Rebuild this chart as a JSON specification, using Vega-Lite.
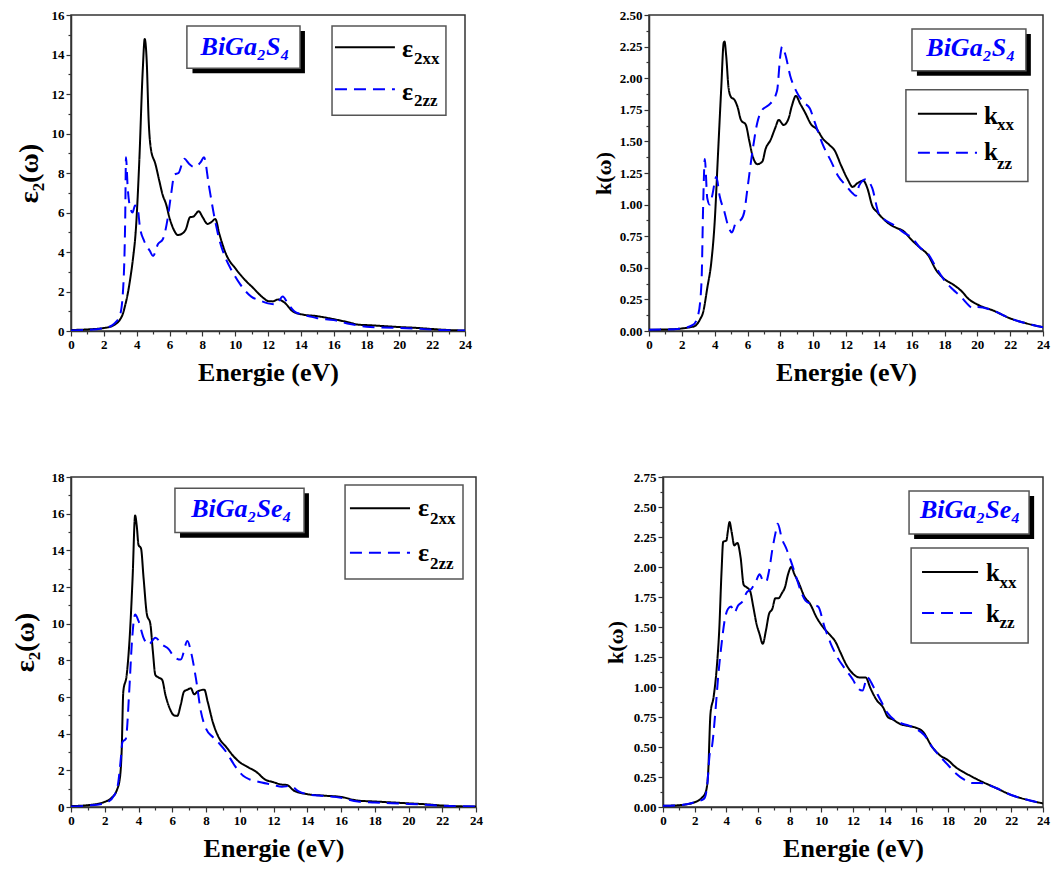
{
"$schema": "https://vega.github.io/schema/vega-lite/v6.json",
"padding": {"left": 10, "top": 8, "right": 5, "bottom": 5},
"datasets": {
"p1": [
{"s":"xx","E":0,"v":0.05},{"s":"xx","E":1,"v":0.08},{"s":"xx","E":2,"v":0.15},{"s":"xx","E":2.5,"v":0.25},{"s":"xx","E":2.75,"v":0.37},{"s":"xx","E":3.0,"v":0.6},{"s":"xx","E":3.15,"v":0.85},{"s":"xx","E":3.3,"v":1.3},{"s":"xx","E":3.45,"v":1.86},{"s":"xx","E":3.6,"v":2.6},{"s":"xx","E":3.76,"v":3.56},{"s":"xx","E":3.96,"v":5.25},{"s":"xx","E":4.16,"v":8.6},{"s":"xx","E":4.37,"v":13.2},{"s":"xx","E":4.49,"v":14.78},{"s":"xx","E":4.61,"v":13.7},{"s":"xx","E":4.73,"v":10.67},{"s":"xx","E":4.87,"v":9.2},{"s":"xx","E":5.14,"v":8.46},{"s":"xx","E":5.38,"v":7.6},{"s":"xx","E":5.58,"v":6.9},{"s":"xx","E":5.8,"v":6.4},{"s":"xx","E":5.99,"v":5.76},{"s":"xx","E":6.15,"v":5.35},{"s":"xx","E":6.29,"v":5.08},{"s":"xx","E":6.5,"v":4.86},{"s":"xx","E":6.7,"v":4.9},{"s":"xx","E":7.0,"v":5.16},{"s":"xx","E":7.25,"v":5.76},{"s":"xx","E":7.45,"v":5.79},{"s":"xx","E":7.78,"v":6.06},{"s":"xx","E":8.02,"v":5.76},{"s":"xx","E":8.32,"v":5.42},{"s":"xx","E":8.53,"v":5.5},{"s":"xx","E":8.79,"v":5.67},{"s":"xx","E":9.04,"v":4.9},{"s":"xx","E":9.44,"v":3.9},{"s":"xx","E":10.05,"v":3.13},{"s":"xx","E":10.56,"v":2.62},{"s":"xx","E":11.07,"v":2.2},{"s":"xx","E":11.68,"v":1.7},{"s":"xx","E":12.0,"v":1.52},{"s":"xx","E":12.3,"v":1.5},{"s":"xx","E":12.6,"v":1.6},{"s":"xx","E":13.0,"v":1.44},{"s":"xx","E":13.5,"v":1.0},{"s":"xx","E":14,"v":0.85},{"s":"xx","E":15,"v":0.75},{"s":"xx","E":16,"v":0.6},{"s":"xx","E":17,"v":0.42},{"s":"xx","E":17.5,"v":0.32},{"s":"xx","E":18,"v":0.3},{"s":"xx","E":19,"v":0.25},{"s":"xx","E":20,"v":0.2},{"s":"xx","E":21,"v":0.16},{"s":"xx","E":22,"v":0.1},{"s":"xx","E":23,"v":0.05},{"s":"xx","E":24,"v":0.02},
{"s":"zz","E":0,"v":0.03},{"s":"zz","E":1,"v":0.06},{"s":"zz","E":2,"v":0.15},{"s":"zz","E":2.5,"v":0.28},{"s":"zz","E":2.7,"v":0.42},{"s":"zz","E":3.0,"v":0.85},{"s":"zz","E":3.2,"v":2.5},{"s":"zz","E":3.3,"v":5.6},{"s":"zz","E":3.35,"v":8.8},{"s":"zz","E":3.45,"v":7.3},{"s":"zz","E":3.6,"v":6.26},{"s":"zz","E":3.75,"v":6.0},{"s":"zz","E":3.9,"v":6.35},{"s":"zz","E":4.05,"v":6.26},{"s":"zz","E":4.2,"v":5.25},{"s":"zz","E":4.45,"v":4.57},{"s":"zz","E":4.8,"v":4.06},{"s":"zz","E":5.0,"v":3.8},{"s":"zz","E":5.3,"v":4.4},{"s":"zz","E":5.6,"v":4.66},{"s":"zz","E":5.9,"v":5.76},{"s":"zz","E":6.1,"v":6.94},{"s":"zz","E":6.3,"v":7.92},{"s":"zz","E":6.55,"v":8.0},{"s":"zz","E":6.9,"v":8.72},{"s":"zz","E":7.2,"v":8.46},{"s":"zz","E":7.5,"v":8.3},{"s":"zz","E":7.9,"v":8.55},{"s":"zz","E":8.1,"v":8.8},{"s":"zz","E":8.4,"v":7.36},{"s":"zz","E":8.7,"v":5.92},{"s":"zz","E":9.0,"v":4.74},{"s":"zz","E":9.4,"v":3.72},{"s":"zz","E":9.8,"v":3.05},{"s":"zz","E":10.3,"v":2.37},{"s":"zz","E":11.0,"v":1.73},{"s":"zz","E":11.5,"v":1.55},{"s":"zz","E":12.0,"v":1.4},{"s":"zz","E":12.5,"v":1.35},{"s":"zz","E":12.9,"v":1.75},{"s":"zz","E":13.2,"v":1.4},{"s":"zz","E":13.6,"v":1.0},{"s":"zz","E":14,"v":0.85},{"s":"zz","E":14.5,"v":0.75},{"s":"zz","E":15,"v":0.65},{"s":"zz","E":16,"v":0.55},{"s":"zz","E":17,"v":0.35},{"s":"zz","E":18,"v":0.22},{"s":"zz","E":19,"v":0.18},{"s":"zz","E":20,"v":0.15},{"s":"zz","E":21,"v":0.12},{"s":"zz","E":22,"v":0.07},{"s":"zz","E":23,"v":0.04},{"s":"zz","E":24,"v":0.02}
],
"p2": [
{"s":"xx","E":0,"v":0.01},{"s":"xx","E":1,"v":0.012},{"s":"xx","E":2,"v":0.02},{"s":"xx","E":2.5,"v":0.03},{"s":"xx","E":2.8,"v":0.04},{"s":"xx","E":3.1,"v":0.09},{"s":"xx","E":3.3,"v":0.15},{"s":"xx","E":3.55,"v":0.34},{"s":"xx","E":3.8,"v":0.55},{"s":"xx","E":4.0,"v":0.86},{"s":"xx","E":4.2,"v":1.39},{"s":"xx","E":4.4,"v":1.92},{"s":"xx","E":4.55,"v":2.28},{"s":"xx","E":4.6,"v":2.29},{"s":"xx","E":4.7,"v":2.18},{"s":"xx","E":4.85,"v":1.92},{"s":"xx","E":5.0,"v":1.85},{"s":"xx","E":5.2,"v":1.83},{"s":"xx","E":5.4,"v":1.77},{"s":"xx","E":5.6,"v":1.67},{"s":"xx","E":5.9,"v":1.63},{"s":"xx","E":6.1,"v":1.51},{"s":"xx","E":6.3,"v":1.39},{"s":"xx","E":6.6,"v":1.32},{"s":"xx","E":6.9,"v":1.34},{"s":"xx","E":7.1,"v":1.44},{"s":"xx","E":7.4,"v":1.51},{"s":"xx","E":7.7,"v":1.61},{"s":"xx","E":7.9,"v":1.67},{"s":"xx","E":8.2,"v":1.63},{"s":"xx","E":8.5,"v":1.68},{"s":"xx","E":8.7,"v":1.78},{"s":"xx","E":8.95,"v":1.86},{"s":"xx","E":9.2,"v":1.8},{"s":"xx","E":9.5,"v":1.73},{"s":"xx","E":9.9,"v":1.63},{"s":"xx","E":10.2,"v":1.6},{"s":"xx","E":10.6,"v":1.52},{"s":"xx","E":11.0,"v":1.47},{"s":"xx","E":11.3,"v":1.43},{"s":"xx","E":11.7,"v":1.31},{"s":"xx","E":12.1,"v":1.2},{"s":"xx","E":12.4,"v":1.14},{"s":"xx","E":12.7,"v":1.17},{"s":"xx","E":13.05,"v":1.19},{"s":"xx","E":13.3,"v":1.13},{"s":"xx","E":13.6,"v":0.99},{"s":"xx","E":13.9,"v":0.94},{"s":"xx","E":14.5,"v":0.86},{"s":"xx","E":15,"v":0.82},{"s":"xx","E":15.5,"v":0.79},{"s":"xx","E":16,"v":0.72},{"s":"xx","E":16.5,"v":0.66},{"s":"xx","E":17,"v":0.6},{"s":"xx","E":17.5,"v":0.48},{"s":"xx","E":18,"v":0.41},{"s":"xx","E":18.5,"v":0.37},{"s":"xx","E":19,"v":0.32},{"s":"xx","E":19.5,"v":0.25},{"s":"xx","E":20,"v":0.21},{"s":"xx","E":21,"v":0.16},{"s":"xx","E":22,"v":0.1},{"s":"xx","E":23,"v":0.06},{"s":"xx","E":24,"v":0.03},
{"s":"zz","E":0,"v":0.01},{"s":"zz","E":1,"v":0.012},{"s":"zz","E":2,"v":0.02},{"s":"zz","E":2.7,"v":0.05},{"s":"zz","E":3.0,"v":0.13},{"s":"zz","E":3.2,"v":0.39},{"s":"zz","E":3.3,"v":1.0},{"s":"zz","E":3.4,"v":1.36},{"s":"zz","E":3.55,"v":1.05},{"s":"zz","E":3.7,"v":1.0},{"s":"zz","E":3.85,"v":1.07},{"s":"zz","E":4.1,"v":1.22},{"s":"zz","E":4.3,"v":1.07},{"s":"zz","E":4.6,"v":0.94},{"s":"zz","E":4.8,"v":0.84},{"s":"zz","E":5.05,"v":0.78},{"s":"zz","E":5.3,"v":0.86},{"s":"zz","E":5.6,"v":0.88},{"s":"zz","E":5.8,"v":0.94},{"s":"zz","E":6.0,"v":1.13},{"s":"zz","E":6.3,"v":1.42},{"s":"zz","E":6.6,"v":1.65},{"s":"zz","E":6.9,"v":1.75},{"s":"zz","E":7.1,"v":1.77},{"s":"zz","E":7.4,"v":1.8},{"s":"zz","E":7.8,"v":1.9},{"s":"zz","E":8.0,"v":2.18},{"s":"zz","E":8.1,"v":2.25},{"s":"zz","E":8.3,"v":2.19},{"s":"zz","E":8.6,"v":2.02},{"s":"zz","E":9.0,"v":1.89},{"s":"zz","E":9.4,"v":1.81},{"s":"zz","E":9.8,"v":1.76},{"s":"zz","E":10.1,"v":1.65},{"s":"zz","E":10.6,"v":1.47},{"s":"zz","E":11.1,"v":1.34},{"s":"zz","E":11.5,"v":1.23},{"s":"zz","E":12.0,"v":1.15},{"s":"zz","E":12.4,"v":1.09},{"s":"zz","E":12.6,"v":1.07},{"s":"zz","E":12.8,"v":1.15},{"s":"zz","E":13.2,"v":1.2},{"s":"zz","E":13.6,"v":1.13},{"s":"zz","E":14,"v":0.93},{"s":"zz","E":15,"v":0.83},{"s":"zz","E":15.5,"v":0.78},{"s":"zz","E":16,"v":0.74},{"s":"zz","E":16.5,"v":0.66},{"s":"zz","E":17,"v":0.61},{"s":"zz","E":17.5,"v":0.5},{"s":"zz","E":18,"v":0.4},{"s":"zz","E":18.5,"v":0.33},{"s":"zz","E":19,"v":0.27},{"s":"zz","E":19.5,"v":0.2},{"s":"zz","E":19.7,"v":0.18},{"s":"zz","E":20,"v":0.19},{"s":"zz","E":21,"v":0.16},{"s":"zz","E":22,"v":0.1},{"s":"zz","E":23,"v":0.06},{"s":"zz","E":24,"v":0.03}
],
"p3": [
{"s":"xx","E":0,"v":0.05},{"s":"xx","E":1,"v":0.1},{"s":"xx","E":2,"v":0.28},{"s":"xx","E":2.4,"v":0.5},{"s":"xx","E":2.7,"v":0.88},{"s":"xx","E":2.9,"v":1.6},{"s":"xx","E":3.0,"v":3.0},{"s":"xx","E":3.1,"v":6.3},{"s":"xx","E":3.3,"v":7.2},{"s":"xx","E":3.5,"v":9.6},{"s":"xx","E":3.65,"v":12.5},{"s":"xx","E":3.8,"v":15.9},{"s":"xx","E":3.9,"v":15.3},{"s":"xx","E":4.0,"v":14.3},{"s":"xx","E":4.15,"v":14.1},{"s":"xx","E":4.3,"v":12.5},{"s":"xx","E":4.5,"v":10.5},{"s":"xx","E":4.7,"v":10.0},{"s":"xx","E":4.85,"v":8.5},{"s":"xx","E":5.0,"v":7.2},{"s":"xx","E":5.2,"v":7.06},{"s":"xx","E":5.4,"v":6.94},{"s":"xx","E":5.6,"v":6.1},{"s":"xx","E":5.85,"v":5.38},{"s":"xx","E":6.1,"v":5.0},{"s":"xx","E":6.3,"v":4.97},{"s":"xx","E":6.5,"v":5.56},{"s":"xx","E":6.7,"v":6.3},{"s":"xx","E":6.9,"v":6.4},{"s":"xx","E":7.1,"v":6.48},{"s":"xx","E":7.3,"v":6.15},{"s":"xx","E":7.5,"v":6.3},{"s":"xx","E":7.9,"v":6.4},{"s":"xx","E":8.1,"v":5.74},{"s":"xx","E":8.4,"v":4.64},{"s":"xx","E":8.8,"v":3.72},{"s":"xx","E":9.2,"v":3.27},{"s":"xx","E":9.6,"v":2.8},{"s":"xx","E":10.0,"v":2.44},{"s":"xx","E":10.5,"v":2.17},{"s":"xx","E":11,"v":1.9},{"s":"xx","E":11.5,"v":1.5},{"s":"xx","E":12,"v":1.35},{"s":"xx","E":12.5,"v":1.22},{"s":"xx","E":12.8,"v":1.2},{"s":"xx","E":13.2,"v":0.9},{"s":"xx","E":14,"v":0.7},{"s":"xx","E":15,"v":0.62},{"s":"xx","E":16,"v":0.55},{"s":"xx","E":17,"v":0.35},{"s":"xx","E":18,"v":0.3},{"s":"xx","E":19,"v":0.25},{"s":"xx","E":20,"v":0.2},{"s":"xx","E":21,"v":0.15},{"s":"xx","E":22,"v":0.08},{"s":"xx","E":23,"v":0.04},{"s":"xx","E":24,"v":0.02},
{"s":"zz","E":0,"v":0.03},{"s":"zz","E":1,"v":0.08},{"s":"zz","E":2,"v":0.2},{"s":"zz","E":2.6,"v":0.7},{"s":"zz","E":2.8,"v":1.34},{"s":"zz","E":2.95,"v":2.62},{"s":"zz","E":3.05,"v":3.54},{"s":"zz","E":3.25,"v":3.72},{"s":"zz","E":3.45,"v":6.3},{"s":"zz","E":3.6,"v":8.86},{"s":"zz","E":3.8,"v":10.5},{"s":"zz","E":4.0,"v":10.15},{"s":"zz","E":4.3,"v":9.23},{"s":"zz","E":4.6,"v":8.86},{"s":"zz","E":5.0,"v":9.23},{"s":"zz","E":5.4,"v":8.86},{"s":"zz","E":5.8,"v":8.6},{"s":"zz","E":6.1,"v":8.2},{"s":"zz","E":6.5,"v":8.04},{"s":"zz","E":6.9,"v":9.05},{"s":"zz","E":7.1,"v":8.5},{"s":"zz","E":7.4,"v":7.03},{"s":"zz","E":7.7,"v":5.2},{"s":"zz","E":8.0,"v":4.27},{"s":"zz","E":8.4,"v":3.82},{"s":"zz","E":8.8,"v":3.45},{"s":"zz","E":9.2,"v":3.0},{"s":"zz","E":9.7,"v":2.26},{"s":"zz","E":10.2,"v":1.7},{"s":"zz","E":10.6,"v":1.5},{"s":"zz","E":11,"v":1.4},{"s":"zz","E":12,"v":1.2},{"s":"zz","E":12.5,"v":1.1},{"s":"zz","E":13,"v":1.15},{"s":"zz","E":13.5,"v":0.85},{"s":"zz","E":14,"v":0.7},{"s":"zz","E":15,"v":0.6},{"s":"zz","E":16,"v":0.5},{"s":"zz","E":17,"v":0.3},{"s":"zz","E":18,"v":0.25},{"s":"zz","E":19,"v":0.2},{"s":"zz","E":20,"v":0.17},{"s":"zz","E":21,"v":0.12},{"s":"zz","E":22,"v":0.07},{"s":"zz","E":23,"v":0.04},{"s":"zz","E":24,"v":0.02}
],
"p4": [
{"s":"xx","E":0,"v":0.01},{"s":"xx","E":1,"v":0.015},{"s":"xx","E":2,"v":0.04},{"s":"xx","E":2.4,"v":0.07},{"s":"xx","E":2.7,"v":0.125},{"s":"xx","E":2.85,"v":0.28},{"s":"xx","E":3.0,"v":0.78},{"s":"xx","E":3.2,"v":0.92},{"s":"xx","E":3.4,"v":1.17},{"s":"xx","E":3.55,"v":1.47},{"s":"xx","E":3.7,"v":1.97},{"s":"xx","E":3.8,"v":2.21},{"s":"xx","E":4.0,"v":2.22},{"s":"xx","E":4.1,"v":2.3},{"s":"xx","E":4.2,"v":2.375},{"s":"xx","E":4.35,"v":2.28},{"s":"xx","E":4.5,"v":2.18},{"s":"xx","E":4.7,"v":2.2},{"s":"xx","E":4.9,"v":2.08},{"s":"xx","E":5.1,"v":1.85},{"s":"xx","E":5.3,"v":1.83},{"s":"xx","E":5.5,"v":1.8},{"s":"xx","E":5.7,"v":1.67},{"s":"xx","E":5.9,"v":1.53},{"s":"xx","E":6.1,"v":1.44},{"s":"xx","E":6.3,"v":1.36},{"s":"xx","E":6.5,"v":1.47},{"s":"xx","E":6.7,"v":1.61},{"s":"xx","E":6.9,"v":1.65},{"s":"xx","E":7.1,"v":1.74},{"s":"xx","E":7.3,"v":1.74},{"s":"xx","E":7.5,"v":1.78},{"s":"xx","E":7.7,"v":1.83},{"s":"xx","E":7.9,"v":1.94},{"s":"xx","E":8.1,"v":2.0},{"s":"xx","E":8.3,"v":1.94},{"s":"xx","E":8.6,"v":1.86},{"s":"xx","E":8.9,"v":1.76},{"s":"xx","E":9.3,"v":1.69},{"s":"xx","E":9.7,"v":1.58},{"s":"xx","E":10.1,"v":1.5},{"s":"xx","E":10.5,"v":1.44},{"s":"xx","E":10.9,"v":1.375},{"s":"xx","E":11.2,"v":1.29},{"s":"xx","E":11.6,"v":1.18},{"s":"xx","E":12.0,"v":1.11},{"s":"xx","E":12.4,"v":1.08},{"s":"xx","E":12.8,"v":1.08},{"s":"xx","E":13.1,"v":0.99},{"s":"xx","E":13.5,"v":0.89},{"s":"xx","E":13.9,"v":0.83},{"s":"xx","E":14.2,"v":0.75},{"s":"xx","E":14.5,"v":0.73},{"s":"xx","E":15,"v":0.69},{"s":"xx","E":15.5,"v":0.675},{"s":"xx","E":16,"v":0.66},{"s":"xx","E":16.4,"v":0.63},{"s":"xx","E":17,"v":0.5},{"s":"xx","E":17.5,"v":0.43},{"s":"xx","E":18,"v":0.39},{"s":"xx","E":18.5,"v":0.33},{"s":"xx","E":19,"v":0.29},{"s":"xx","E":20,"v":0.22},{"s":"xx","E":21,"v":0.16},{"s":"xx","E":22,"v":0.1},{"s":"xx","E":23,"v":0.06},{"s":"xx","E":24,"v":0.03},
{"s":"zz","E":0,"v":0.01},{"s":"zz","E":1,"v":0.015},{"s":"zz","E":2,"v":0.04},{"s":"zz","E":2.6,"v":0.07},{"s":"zz","E":2.8,"v":0.19},{"s":"zz","E":2.95,"v":0.44},{"s":"zz","E":3.1,"v":0.51},{"s":"zz","E":3.3,"v":0.78},{"s":"zz","E":3.5,"v":1.11},{"s":"zz","E":3.7,"v":1.36},{"s":"zz","E":3.9,"v":1.56},{"s":"zz","E":4.1,"v":1.65},{"s":"zz","E":4.3,"v":1.67},{"s":"zz","E":4.5,"v":1.62},{"s":"zz","E":4.75,"v":1.68},{"s":"zz","E":5.0,"v":1.71},{"s":"zz","E":5.3,"v":1.79},{"s":"zz","E":5.6,"v":1.82},{"s":"zz","E":5.9,"v":1.89},{"s":"zz","E":6.1,"v":1.94},{"s":"zz","E":6.3,"v":1.89},{"s":"zz","E":6.5,"v":1.875},{"s":"zz","E":6.7,"v":1.97},{"s":"zz","E":6.9,"v":2.14},{"s":"zz","E":7.1,"v":2.28},{"s":"zz","E":7.25,"v":2.36},{"s":"zz","E":7.5,"v":2.24},{"s":"zz","E":7.8,"v":2.15},{"s":"zz","E":8.1,"v":2.04},{"s":"zz","E":8.4,"v":1.92},{"s":"zz","E":8.7,"v":1.8},{"s":"zz","E":9.0,"v":1.72},{"s":"zz","E":9.4,"v":1.69},{"s":"zz","E":9.8,"v":1.67},{"s":"zz","E":10.2,"v":1.5},{"s":"zz","E":10.6,"v":1.36},{"s":"zz","E":11.0,"v":1.25},{"s":"zz","E":11.5,"v":1.15},{"s":"zz","E":12.0,"v":1.06},{"s":"zz","E":12.3,"v":0.99},{"s":"zz","E":12.6,"v":0.97},{"s":"zz","E":12.9,"v":1.08},{"s":"zz","E":13.3,"v":1.0},{"s":"zz","E":13.7,"v":0.9},{"s":"zz","E":14.2,"v":0.78},{"s":"zz","E":15,"v":0.7},{"s":"zz","E":15.5,"v":0.68},{"s":"zz","E":16,"v":0.65},{"s":"zz","E":16.5,"v":0.6},{"s":"zz","E":17,"v":0.5},{"s":"zz","E":17.5,"v":0.42},{"s":"zz","E":18,"v":0.35},{"s":"zz","E":18.5,"v":0.28},{"s":"zz","E":19,"v":0.23},{"s":"zz","E":19.5,"v":0.2},{"s":"zz","E":20,"v":0.2},{"s":"zz","E":21,"v":0.16},{"s":"zz","E":22,"v":0.1},{"s":"zz","E":23,"v":0.06},{"s":"zz","E":24,"v":0.03}
]
},
"bounds": "full",
"spacing": 84,
"vconcat": [
{"bounds": "flush", "spacing": 184, "hconcat": [
{"width": 394, "height": 316, "resolve": {"axis": {"x": "independent", "y": "independent"}}, "layer": [
 {"data": {"name": "p1"}, "mark": {"type": "line", "strokeWidth": 2, "clip": true, "interpolate": "monotone"},
  "encoding": {
   "x": {"field": "E", "type": "quantitative", "scale": {"domain": [0, 24], "nice": false}, "axis": {"orient": "bottom", "title": "Energie (eV)", "values": [0,2,4,6,8,10,12,14,16,18,20,22,24], "tickSize": 5, "titleFontSize": 26, "titlePadding": 8}},
   "y": {"field": "v", "type": "quantitative", "scale": {"domain": [0, 16], "nice": false}, "axis": {"orient": "left", "title": "ε₂(ω)", "values": [0,2,4,6,8,10,12,14,16], "tickSize": 5, "titleFontSize": 28, "titlePadding": 8}},
   "color": {"field": "s", "type": "nominal", "scale": {"domain": ["xx", "zz"], "range": ["#000000", "#0000ff"]}, "legend": null},
   "strokeDash": {"field": "s", "type": "nominal", "scale": {"domain": ["xx", "zz"], "range": [[1, 0], [12, 7]]}, "legend": null}
  }},
 {"data": {"values": [{}]}, "mark": {"type": "rect", "fill": "#000000"}, "encoding": {
   "x": {"datum": 7.4, "axis": {"orient": "bottom", "values": [1,3,5,7,9,11,13,15,17,19,21,23], "labels": false, "domain": false, "tickSize": 3, "title": null}},
   "x2": {"datum": 14.25},
   "y": {"datum": 13.05, "axis": {"orient": "left", "values": [1,3,5,7,9,11,13,15], "labels": false, "domain": false, "tickSize": 3, "title": null}},
   "y2": {"datum": 15.19}}},
 {"data": {"values": [{}]}, "mark": {"type": "rect", "fill": "#ffffff", "stroke": "#555555", "strokeWidth": 1.5}, "encoding": {"x": {"datum": 7.06, "axis": null}, "x2": {"datum": 13.95}, "y": {"datum": 13.31, "axis": null}, "y2": {"datum": 15.44}}},
 {"data": {"values": [{}]}, "mark": {"type": "text", "text": "BiGa₂S₄", "font": "Liberation Serif", "fontSize": 26, "fontWeight": "bold", "fontStyle": "italic", "color": "#0000ff", "align": "center", "baseline": "alphabetic"}, "encoding": {"x": {"datum": 10.6, "axis": null}, "y": {"datum": 14.0, "axis": null}}},
 {"data": {"values": [{}]}, "mark": {"type": "rect", "fill": "#ffffff", "stroke": "#555555", "strokeWidth": 1.5}, "encoding": {"x": {"datum": 15.9, "axis": null}, "x2": {"datum": 22.84}, "y": {"datum": 10.92, "axis": null}, "y2": {"datum": 15.44}}},
 {"data": {"values": [{}]}, "mark": {"type": "rule", "color": "#000000", "strokeWidth": 2}, "encoding": {"x": {"datum": 16.08, "axis": null}, "x2": {"datum": 19.73}, "y": {"datum": 14.37, "axis": null}}},
 {"data": {"values": [{}]}, "mark": {"type": "rule", "color": "#0000ff", "strokeWidth": 2, "strokeDash": [12, 7]}, "encoding": {"x": {"datum": 16.08, "axis": null}, "x2": {"datum": 19.73}, "y": {"datum": 12.24, "axis": null}}},
 {"data": {"values": [{}]}, "mark": {"type": "text", "text": "ε", "font": "Liberation Serif", "fontSize": 26, "fontWeight": "bold", "align": "left", "baseline": "alphabetic"}, "encoding": {"x": {"datum": 20.16, "axis": null}, "y": {"datum": 13.86, "axis": null}}},
 {"data": {"values": [{}]}, "mark": {"type": "text", "text": "2xx", "font": "Liberation Serif", "fontSize": 17, "fontWeight": "bold", "align": "left", "baseline": "alphabetic"}, "encoding": {"x": {"datum": 20.89, "axis": null}, "y": {"datum": 13.54, "axis": null}}},
 {"data": {"values": [{}]}, "mark": {"type": "text", "text": "ε", "font": "Liberation Serif", "fontSize": 26, "fontWeight": "bold", "align": "left", "baseline": "alphabetic"}, "encoding": {"x": {"datum": 20.16, "axis": null}, "y": {"datum": 11.7, "axis": null}}},
 {"data": {"values": [{}]}, "mark": {"type": "text", "text": "2zz", "font": "Liberation Serif", "fontSize": 17, "fontWeight": "bold", "align": "left", "baseline": "alphabetic"}, "encoding": {"x": {"datum": 20.89, "axis": null}, "y": {"datum": 11.38, "axis": null}}}
]},
{"width": 394, "height": 316, "resolve": {"axis": {"x": "independent", "y": "independent"}}, "layer": [
 {"data": {"name": "p2"}, "mark": {"type": "line", "strokeWidth": 2, "clip": true, "interpolate": "monotone"},
  "encoding": {
   "x": {"field": "E", "type": "quantitative", "scale": {"domain": [0, 24], "nice": false}, "axis": {"orient": "bottom", "title": "Energie (eV)", "values": [0,2,4,6,8,10,12,14,16,18,20,22,24], "tickSize": 5, "titleFontSize": 26, "titlePadding": 8}},
   "y": {"field": "v", "type": "quantitative", "scale": {"domain": [0, 2.5], "nice": false}, "axis": {"orient": "left", "title": "k(ω)", "format": ".2f", "values": [0,0.25,0.5,0.75,1,1.25,1.5,1.75,2,2.25,2.5], "tickSize": 5, "titleFontSize": 22, "titlePadding": 4}},
   "color": {"field": "s", "type": "nominal", "scale": {"domain": ["xx", "zz"], "range": ["#000000", "#0000ff"]}, "legend": null},
   "strokeDash": {"field": "s", "type": "nominal", "scale": {"domain": ["xx", "zz"], "range": [[1, 0], [12, 7]]}, "legend": null}
  }},
 {"data": {"values": [{}]}, "mark": {"type": "rect", "fill": "#000000"}, "encoding": {
   "x": {"datum": 16.32, "axis": {"orient": "bottom", "values": [1,3,5,7,9,11,13,15,17,19,21,23], "labels": false, "domain": false, "tickSize": 3, "title": null}},
   "x2": {"datum": 23.26},
   "y": {"datum": 2.019, "axis": {"orient": "left", "values": [0.125,0.375,0.625,0.875,1.125,1.375,1.625,1.875,2.125,2.375], "labels": false, "domain": false, "tickSize": 3, "title": null}},
   "y2": {"datum": 2.35}}},
 {"data": {"values": [{}]}, "mark": {"type": "rect", "fill": "#ffffff", "stroke": "#555555", "strokeWidth": 1.5}, "encoding": {"x": {"datum": 16.02, "axis": null}, "x2": {"datum": 22.96}, "y": {"datum": 2.058, "axis": null}, "y2": {"datum": 2.39}}},
 {"data": {"values": [{}]}, "mark": {"type": "text", "text": "BiGa₂S₄", "font": "Liberation Serif", "fontSize": 26, "fontWeight": "bold", "fontStyle": "italic", "color": "#0000ff", "align": "center", "baseline": "alphabetic"}, "encoding": {"x": {"datum": 19.6, "axis": null}, "y": {"datum": 2.177, "axis": null}}},
 {"data": {"values": [{}]}, "mark": {"type": "rect", "fill": "#ffffff", "stroke": "#555555", "strokeWidth": 1.5}, "encoding": {"x": {"datum": 15.65, "axis": null}, "x2": {"datum": 23.08}, "y": {"datum": 1.183, "axis": null}, "y2": {"datum": 1.908}}},
 {"data": {"values": [{}]}, "mark": {"type": "rule", "color": "#000000", "strokeWidth": 2}, "encoding": {"x": {"datum": 16.38, "axis": null}, "x2": {"datum": 19.98}, "y": {"datum": 1.719, "axis": null}}},
 {"data": {"values": [{}]}, "mark": {"type": "rule", "color": "#0000ff", "strokeWidth": 2, "strokeDash": [12, 7]}, "encoding": {"x": {"datum": 16.38, "axis": null}, "x2": {"datum": 19.98}, "y": {"datum": 1.41, "axis": null}}},
 {"data": {"values": [{}]}, "mark": {"type": "text", "text": "k", "font": "Liberation Serif", "fontSize": 25, "fontWeight": "bold", "align": "left", "baseline": "alphabetic"}, "encoding": {"x": {"datum": 20.4, "axis": null}, "y": {"datum": 1.64, "axis": null}}},
 {"data": {"values": [{}]}, "mark": {"type": "text", "text": "xx", "font": "Liberation Serif", "fontSize": 17, "fontWeight": "bold", "align": "left", "baseline": "alphabetic"}, "encoding": {"x": {"datum": 21.2, "axis": null}, "y": {"datum": 1.593, "axis": null}}},
 {"data": {"values": [{}]}, "mark": {"type": "text", "text": "k", "font": "Liberation Serif", "fontSize": 25, "fontWeight": "bold", "align": "left", "baseline": "alphabetic"}, "encoding": {"x": {"datum": 20.4, "axis": null}, "y": {"datum": 1.35, "axis": null}}},
 {"data": {"values": [{}]}, "mark": {"type": "text", "text": "zz", "font": "Liberation Serif", "fontSize": 17, "fontWeight": "bold", "align": "left", "baseline": "alphabetic"}, "encoding": {"x": {"datum": 21.2, "axis": null}, "y": {"datum": 1.285, "axis": null}}}
]}
]},
{"bounds": "flush", "spacing": 187, "hconcat": [
{"width": 405, "height": 330, "resolve": {"axis": {"x": "independent", "y": "independent"}}, "layer": [
 {"data": {"name": "p3"}, "mark": {"type": "line", "strokeWidth": 2, "clip": true, "interpolate": "monotone"},
  "encoding": {
   "x": {"field": "E", "type": "quantitative", "scale": {"domain": [0, 24], "nice": false}, "axis": {"orient": "bottom", "title": "Energie (eV)", "values": [0,2,4,6,8,10,12,14,16,18,20,22,24], "tickSize": 5, "titleFontSize": 26, "titlePadding": 8}},
   "y": {"field": "v", "type": "quantitative", "scale": {"domain": [0, 18], "nice": false}, "axis": {"orient": "left", "title": "ε₂(ω)", "values": [0,2,4,6,8,10,12,14,16,18], "tickSize": 5, "titleFontSize": 28, "titlePadding": 12}},
   "color": {"field": "s", "type": "nominal", "scale": {"domain": ["xx", "zz"], "range": ["#000000", "#0000ff"]}, "legend": null},
   "strokeDash": {"field": "s", "type": "nominal", "scale": {"domain": ["xx", "zz"], "range": [[1, 0], [12, 7]]}, "legend": null}
  }},
 {"data": {"values": [{}]}, "mark": {"type": "rect", "fill": "#000000"}, "encoding": {
   "x": {"datum": 6.46, "axis": {"orient": "bottom", "values": [1,3,5,7,9,11,13,15,17,19,21,23], "labels": false, "domain": false, "tickSize": 3, "title": null}},
   "x2": {"datum": 14.1},
   "y": {"datum": 14.69, "axis": {"orient": "left", "values": [1,3,5,7,9,11,13,15,17], "labels": false, "domain": false, "tickSize": 3, "title": null}},
   "y2": {"datum": 17.12}}},
 {"data": {"values": [{}]}, "mark": {"type": "rect", "fill": "#ffffff", "stroke": "#555555", "strokeWidth": 1.5}, "encoding": {"x": {"datum": 6.16, "axis": null}, "x2": {"datum": 13.81}, "y": {"datum": 14.97, "axis": null}, "y2": {"datum": 17.39}}},
 {"data": {"values": [{}]}, "mark": {"type": "text", "text": "BiGa₂Se₄", "font": "Liberation Serif", "fontSize": 26, "fontWeight": "bold", "fontStyle": "italic", "color": "#0000ff", "align": "center", "baseline": "alphabetic"}, "encoding": {"x": {"datum": 10.1, "axis": null}, "y": {"datum": 15.8, "axis": null}}},
 {"data": {"values": [{}]}, "mark": {"type": "rect", "fill": "#ffffff", "stroke": "#555555", "strokeWidth": 1.5}, "encoding": {"x": {"datum": 16.24, "axis": null}, "x2": {"datum": 23.23}, "y": {"datum": 12.44, "axis": null}, "y2": {"datum": 17.56}}},
 {"data": {"values": [{}]}, "mark": {"type": "rule", "color": "#000000", "strokeWidth": 2}, "encoding": {"x": {"datum": 16.53, "axis": null}, "x2": {"datum": 20.09}, "y": {"datum": 16.29, "axis": null}}},
 {"data": {"values": [{}]}, "mark": {"type": "rule", "color": "#0000ff", "strokeWidth": 2, "strokeDash": [12, 7]}, "encoding": {"x": {"datum": 16.53, "axis": null}, "x2": {"datum": 20.09}, "y": {"datum": 13.87, "axis": null}}},
 {"data": {"values": [{}]}, "mark": {"type": "text", "text": "ε", "font": "Liberation Serif", "fontSize": 26, "fontWeight": "bold", "align": "left", "baseline": "alphabetic"}, "encoding": {"x": {"datum": 20.56, "axis": null}, "y": {"datum": 15.85, "axis": null}}},
 {"data": {"values": [{}]}, "mark": {"type": "text", "text": "2xx", "font": "Liberation Serif", "fontSize": 17, "fontWeight": "bold", "align": "left", "baseline": "alphabetic"}, "encoding": {"x": {"datum": 21.27, "axis": null}, "y": {"datum": 15.41, "axis": null}}},
 {"data": {"values": [{}]}, "mark": {"type": "text", "text": "ε", "font": "Liberation Serif", "fontSize": 26, "fontWeight": "bold", "align": "left", "baseline": "alphabetic"}, "encoding": {"x": {"datum": 20.56, "axis": null}, "y": {"datum": 13.43, "axis": null}}},
 {"data": {"values": [{}]}, "mark": {"type": "text", "text": "2zz", "font": "Liberation Serif", "fontSize": 17, "fontWeight": "bold", "align": "left", "baseline": "alphabetic"}, "encoding": {"x": {"datum": 21.27, "axis": null}, "y": {"datum": 12.99, "axis": null}}}
]},
{"width": 380, "height": 330, "resolve": {"axis": {"x": "independent", "y": "independent"}}, "layer": [
 {"data": {"name": "p4"}, "mark": {"type": "line", "strokeWidth": 2, "clip": true, "interpolate": "monotone"},
  "encoding": {
   "x": {"field": "E", "type": "quantitative", "scale": {"domain": [0, 24], "nice": false}, "axis": {"orient": "bottom", "title": "Energie (eV)", "values": [0,2,4,6,8,10,12,14,16,18,20,22,24], "tickSize": 5, "titleFontSize": 26, "titlePadding": 8}},
   "y": {"field": "v", "type": "quantitative", "scale": {"domain": [0, 2.75], "nice": false}, "axis": {"orient": "left", "title": "k(ω)", "format": ".2f", "values": [0,0.25,0.5,0.75,1,1.25,1.5,1.75,2,2.25,2.5,2.75], "tickSize": 5, "titleFontSize": 22, "titlePadding": 6}},
   "color": {"field": "s", "type": "nominal", "scale": {"domain": ["xx", "zz"], "range": ["#000000", "#0000ff"]}, "legend": null},
   "strokeDash": {"field": "s", "type": "nominal", "scale": {"domain": ["xx", "zz"], "range": [[1, 0], [12, 7]]}, "legend": null}
  }},
 {"data": {"values": [{}]}, "mark": {"type": "rect", "fill": "#000000"}, "encoding": {
   "x": {"datum": 15.86, "axis": {"orient": "bottom", "values": [1,3,5,7,9,11,13,15,17,19,21,23], "labels": false, "domain": false, "tickSize": 3, "title": null}},
   "x2": {"datum": 23.44},
   "y": {"datum": 2.233, "axis": {"orient": "left", "values": [0.125,0.375,0.625,0.875,1.125,1.375,1.625,1.875,2.125,2.375,2.625], "labels": false, "domain": false, "tickSize": 3, "title": null}},
   "y2": {"datum": 2.592}}},
 {"data": {"values": [{}]}, "mark": {"type": "rect", "fill": "#ffffff", "stroke": "#555555", "strokeWidth": 1.5}, "encoding": {"x": {"datum": 15.54, "axis": null}, "x2": {"datum": 23.12}, "y": {"datum": 2.275, "axis": null}, "y2": {"datum": 2.633}}},
 {"data": {"values": [{}]}, "mark": {"type": "text", "text": "BiGa₂Se₄", "font": "Liberation Serif", "fontSize": 26, "fontWeight": "bold", "fontStyle": "italic", "color": "#0000ff", "align": "center", "baseline": "alphabetic"}, "encoding": {"x": {"datum": 19.4, "axis": null}, "y": {"datum": 2.408, "axis": null}}},
 {"data": {"values": [{}]}, "mark": {"type": "rect", "fill": "#ffffff", "stroke": "#555555", "strokeWidth": 1.5}, "encoding": {"x": {"datum": 15.67, "axis": null}, "x2": {"datum": 23.06}, "y": {"datum": 1.367, "axis": null}, "y2": {"datum": 2.158}}},
 {"data": {"values": [{}]}, "mark": {"type": "rule", "color": "#000000", "strokeWidth": 2}, "encoding": {"x": {"datum": 16.36, "axis": null}, "x2": {"datum": 19.9}, "y": {"datum": 1.958, "axis": null}}},
 {"data": {"values": [{}]}, "mark": {"type": "rule", "color": "#0000ff", "strokeWidth": 2, "strokeDash": [12, 7]}, "encoding": {"x": {"datum": 16.36, "axis": null}, "x2": {"datum": 19.9}, "y": {"datum": 1.617, "axis": null}}},
 {"data": {"values": [{}]}, "mark": {"type": "text", "text": "k", "font": "Liberation Serif", "fontSize": 25, "fontWeight": "bold", "align": "left", "baseline": "alphabetic"}, "encoding": {"x": {"datum": 20.4, "axis": null}, "y": {"datum": 1.883, "axis": null}}},
 {"data": {"values": [{}]}, "mark": {"type": "text", "text": "xx", "font": "Liberation Serif", "fontSize": 17, "fontWeight": "bold", "align": "left", "baseline": "alphabetic"}, "encoding": {"x": {"datum": 21.25, "axis": null}, "y": {"datum": 1.825, "axis": null}}},
 {"data": {"values": [{}]}, "mark": {"type": "text", "text": "k", "font": "Liberation Serif", "fontSize": 25, "fontWeight": "bold", "align": "left", "baseline": "alphabetic"}, "encoding": {"x": {"datum": 20.4, "axis": null}, "y": {"datum": 1.542, "axis": null}}},
 {"data": {"values": [{}]}, "mark": {"type": "text", "text": "zz", "font": "Liberation Serif", "fontSize": 17, "fontWeight": "bold", "align": "left", "baseline": "alphabetic"}, "encoding": {"x": {"datum": 21.25, "axis": null}, "y": {"datum": 1.49, "axis": null}}}
]}
]}
],
"config": {
 "font": "Liberation Serif",
 "axis": {"labelFont": "Liberation Serif", "labelFontWeight": "bold", "labelFontSize": 13, "labelColor": "#000000", "labelPadding": 2, "labelOverlap": false, "labelFlush": false, "labelBound": false, "titleFont": "Liberation Serif", "titleFontWeight": "bold", "titleColor": "#000000", "domainColor": "#333333", "domainWidth": 1.5, "tickColor": "#333333", "tickWidth": 1.2, "grid": false},
 "view": {"stroke": "#333333", "strokeWidth": 1.5}
}
}
